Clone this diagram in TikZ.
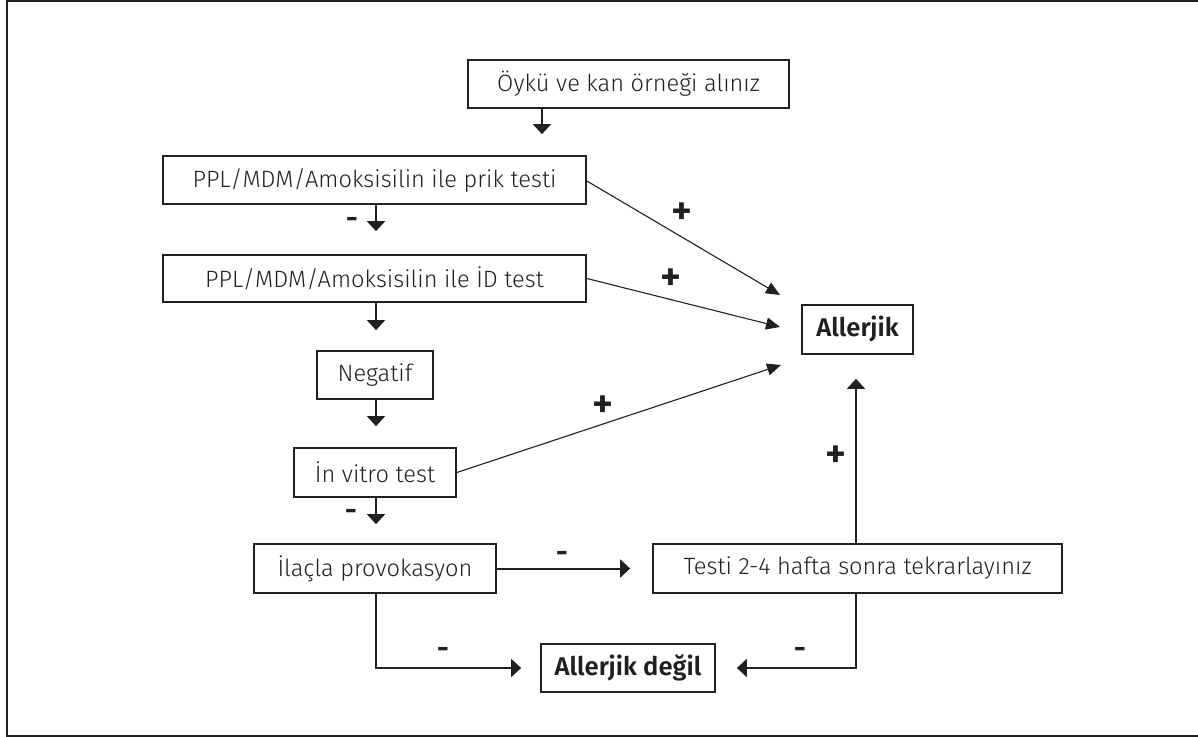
\documentclass[tikz,border=0pt]{standalone}
\usepackage{fontspec}
\setmainfont{Fira Sans Light}[BoldFont={Fira Sans SemiBold}]
\usetikzlibrary{arrows.meta}
\definecolor{ink}{RGB}{35,31,32}
\begin{document}
\begin{tikzpicture}[x=0.5pt, y=-0.5pt,
  box/.style={draw=ink, line width=0.85pt, inner sep=0pt, text=ink,
    font=\fontsize{11.8}{13}\selectfont},
  boldbox/.style={box, font=\fontsize{12.8}{14}\selectfont\bfseries},
  flow/.style={draw=ink, line width=1pt, -{Triangle[length=5pt,width=9pt]}},
  slant/.style={draw=ink, line width=0.55pt, -{Triangle[length=7pt,width=6pt]}},
  plus/.style={inner sep=0pt, text=ink, font=\fontsize{20}{20}\selectfont\bfseries},
  minus/.style={inner sep=0pt, text=ink, font=\fontsize{15}{15}\selectfont\bfseries}]
\useasboundingbox (0,0) rectangle (1198,737);
% outer frame
\draw[ink, line width=1pt] (6.5,0.8) rectangle (1199.5,735.5);

% boxes
\node[box, minimum width=160.5pt, minimum height=24pt]   (oyku)   at (628.5,84)   {Öykü ve kan örneği alınız};
\node[box, minimum width=211.5pt, minimum height=24pt]   (prik)   at (374.5,180)  {PPL/MDM/Amoksisilin ile prik testi};
\node[box, minimum width=211.5pt, minimum height=23.5pt] (idt)    at (374.5,278.5){PPL/MDM/Amoksisilin ile İD test};
\node[box, minimum width=58pt,    minimum height=24pt]   (neg)    at (375,375)    {Negatif};
\node[box, minimum width=81pt,    minimum height=24.5pt] (vitro)  at (375,472.5)  {İn vitro test};
\node[box, minimum width=121pt,   minimum height=24.5pt] (ilac)   at (375,568.5)  {İlaçla provokasyon};
\node[box, minimum width=204.5pt, minimum height=24.5pt] (testi)  at (857.5,568.5){Testi 2-4 hafta sonra tekrarlayınız};
\node[boldbox, minimum width=55.5pt, minimum height=24.5pt] (allerjik) at (857.5,329.5) {Allerjik};
\node[boldbox, minimum width=87pt,   minimum height=24pt]   (degil)    at (628,668)     {Allerjik değil};

% columns and free arrow ends
\coordinate (colO) at (542,0);
\coordinate (colA) at (376,0);
\coordinate (colB) at (856,0);
\coordinate (tipP) at (780,295);
\coordinate (tipI) at (780,327);
\coordinate (tipV) at (781,365);

% main column
\draw[flow, shorten >=10.5pt] (oyku.south -| colO) -- (prik.north -| colO);
\draw[flow, shorten >=11.5pt] (prik.south -| colA) -- (idt.north -| colA);
\draw[flow, shorten >=10pt]   (idt.south -| colA) -- (neg.north -| colA);
\draw[flow, shorten >=10.5pt] (neg.south -| colA) -- (vitro.north -| colA);
\draw[flow, shorten >=9.5pt]  (vitro.south -| colA) -- (ilac.north -| colA);
\draw[flow, shorten >=11pt]   (ilac.east) -- (testi.west);
\draw[flow, shorten >=9.5pt]  (ilac.south -| colA) |- (degil.west);
\draw[flow, shorten >=10.5pt] (testi.south -| colB) |- (degil.east);
\draw[flow, shorten >=12pt]   (testi.north -| colB) -- (allerjik.south -| colB);

% positive results
\draw[slant] (prik.east) ++(0,1) -- (tipP);
\draw[slant] (idt.east) -- (tipI);
\draw[slant] (vitro.east) -- (tipV);

% signs
\node[plus] (s1) at (682,214) {+};
\node[plus] (s2) at (671,280) {+};
\node[plus] (s3) at (603,407) {+};
\node[plus] (s4) at (836,457) {+};
\node[minus] (m1) at (352,223) {-};
\node[minus] (m2) at (351,515) {-};
\node[minus] (m3) at (562,557) {-};
\node[minus] (m4) at (443,653) {-};
\node[minus] (m5) at (800,653) {-};
\end{tikzpicture}
\end{document}
